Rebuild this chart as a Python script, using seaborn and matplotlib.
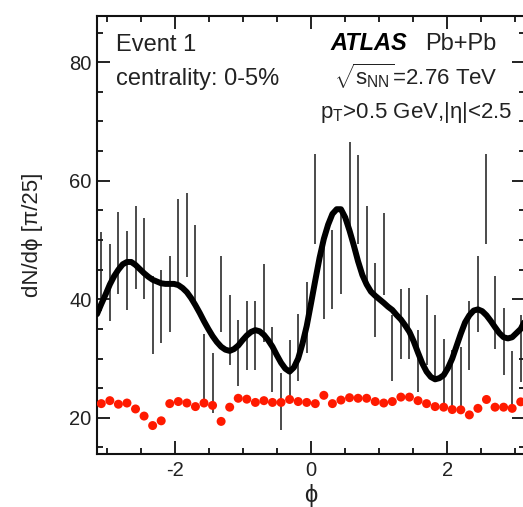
import numpy as np
import pandas as pd
import matplotlib
matplotlib.use("Agg")
import matplotlib.pyplot as plt
from matplotlib.ticker import MultipleLocator
import seaborn as sns

# ---------------- data ----------------
n_bins = 50
# event-by-event dN/dphi (black error bars)
event_counts = [44.7, 42.9, 47.8, 44.9, 48.8, 46.9, 37.4, 38.8, 40.9, 49.8,
                50.9, 45.7, 28.4, 25.9, 40.9, 34.8, 30.9, 33.9, 33.9, 39.4,
                29.9, 22.8, 27.8, 31.9, 37.0, 56.9, 43.2, 45.0, 47.8, 59.0,
                56.9, 48.8, 39.9, 47.7, 31.8, 35.8, 35.9, 29.6, 34.8, 31.7,
                27.9, 26.4, 26.8, 33.9, 40.9, 56.9, 37.8, 32.9, 26.2, 31.7]
event_errors = [6.7, 6.5, 6.9, 6.7, 7.0, 6.9, 6.6, 6.2, 6.4, 7.1,
                7.1, 6.9, 5.8, 5.1, 6.4, 5.9, 5.6, 5.8, 5.8, 6.6,
                5.5, 4.8, 5.3, 5.6, 6.0, 7.6, 6.6, 6.7, 6.9, 7.6,
                7.5, 7.0, 6.2, 6.9, 5.6, 5.9, 6.0, 5.3, 5.9, 5.7,
                5.4, 5.1, 5.2, 5.8, 6.4, 7.6, 6.1, 5.7, 5.1, 5.6]
# event-averaged distribution (red points)
average_counts = [22.4, 22.9, 22.3, 22.5, 21.5, 20.3, 18.7, 19.5, 22.4, 22.75,
                  22.5, 21.9, 22.5, 22.1, 19.4, 21.8, 23.3, 23.15, 22.6, 22.9,
                  22.6, 22.6, 23.1, 22.75, 22.6, 22.4, 23.8, 22.4, 23.0, 23.4,
                  23.3, 23.3, 22.75, 22.5, 22.75, 23.5, 23.5, 22.9, 22.4, 21.9,
                  21.8, 21.4, 21.35, 20.5, 21.6, 23.1, 21.8, 21.8, 21.6, 22.7]
# smooth Fourier-fit curve, read every half bin from phi = -pi to +pi
curve_values = [37.5, 39.2, 40.8, 42.5, 43.9, 45.0, 45.9, 46.3, 46.3, 45.8,
                45.1, 44.4, 43.8, 43.3, 43.0, 42.7, 42.6, 42.6, 42.6, 42.4,
                41.9, 41.2, 40.2, 39.0, 37.7, 36.3, 35.0, 33.8, 32.8, 32.0,
                31.5, 31.3, 31.6, 32.2, 33.1, 33.9, 34.5, 34.8, 34.6, 34.0,
                33.1, 32.0, 30.6, 29.3, 28.3, 27.8, 28.5, 30.0, 32.5, 35.5,
                39.3, 43.2, 47.0, 50.2, 52.6, 54.4, 55.2, 55.2, 53.8, 51.6,
                49.1, 46.4, 44.1, 42.5, 41.3, 40.6, 40.0, 39.4, 38.75, 38.2,
                37.35, 36.6, 35.6, 34.5, 32.9, 31.0, 29.2, 27.8, 26.9, 26.5,
                26.7, 27.2, 28.4, 30.0, 32.1, 34.2, 36.1, 37.3, 38.1, 38.3,
                38.0, 37.3, 36.35, 35.3, 34.3, 33.6, 33.4, 33.6, 34.3, 35.0,
                36.4]

x_ticks = [-2, 0, 2]
y_ticks = [20, 40, 60, 80]

# ---------------- binning ----------------
edges = np.linspace(-np.pi, np.pi, n_bins + 1)
centres = 0.5 * (edges[:-1] + edges[1:])
curve_phi = np.linspace(-np.pi, np.pi, 2 * n_bins + 1)

df_evt = pd.DataFrame({"phi": centres, "n": event_counts, "err": event_errors})
df_avg = pd.DataFrame({"phi": centres, "n": average_counts})
df_fit = pd.DataFrame({"phi": curve_phi, "n": curve_values})

# ---------------- style ----------------
sns.set_style("ticks")
plt.rcParams["font.family"] = ["Liberation Sans", "DejaVu Sans"]
plt.rcParams["axes.unicode_minus"] = False
plt.rcParams["mathtext.fontset"] = "custom"
plt.rcParams["mathtext.rm"] = "Liberation Sans"
plt.rcParams["mathtext.it"] = "Liberation Sans:italic"
plt.rcParams["mathtext.bf"] = "Liberation Sans:bold"

W, H, DPI = 523, 507, 100
fig = plt.figure(figsize=(W / DPI, H / DPI), dpi=DPI)
ax = fig.add_axes([97 / W, 1 - 454 / H, 428 / W, 438 / H])

# error bars
ax.errorbar(df_evt["phi"], df_evt["n"], yerr=df_evt["err"], fmt="none",
            ecolor="#1a1a1a", elinewidth=1.1, capsize=0, zorder=2)
# fit curve
sns.lineplot(data=df_fit, x="phi", y="n", ax=ax, color="black", lw=4.3,
             zorder=3, sort=False, solid_joinstyle="round",
             solid_capstyle="round")
# averaged distribution
sns.scatterplot(data=df_avg, x="phi", y="n", ax=ax, color="#ff1a00", s=42,
                edgecolor="none", zorder=4)

ax.set_xlim(-np.pi, np.pi)
ax.set_ylim(13.9, 87.8)
ax.set_xticks(x_ticks)
ax.set_yticks(y_ticks)
ax.xaxis.set_minor_locator(MultipleLocator(0.5))
ax.yaxis.set_minor_locator(MultipleLocator(5))
ax.tick_params(which="both", direction="in", top=True, right=True,
               color="#111111", width=1.3)
ax.tick_params(which="major", length=9.5, labelsize=14.5, labelcolor="#222222")
ax.tick_params(which="minor", length=4.5)
ax.tick_params(axis="x", which="major", pad=5)
ax.tick_params(axis="y", which="major", pad=4)
for s in ax.spines.values():
    s.set_linewidth(1.5)
    s.set_color("#111111")

ax.set_xlabel("ϕ", fontsize=17, color="#222222", labelpad=3)
ax.set_ylabel("dN/dϕ [π/25]", fontsize=16, color="#222222", labelpad=19)

# annotations
def px(xp, yp):
    return xp / W, 1 - yp / H

tc = "#222222"
fig.text(*px(116, 51), "Event 1", fontsize=17, color=tc, ha="left", va="baseline")
fig.text(*px(116, 85), "centrality: 0-5%", fontsize=17, color=tc, ha="left", va="baseline")
fig.text(*px(330, 50), "ATLAS", fontsize=17, color="black", fontweight="bold",
         fontstyle="italic", ha="left", va="baseline")
fig.text(*px(425, 50), "Pb+Pb", fontsize=17, color=tc, ha="left", va="baseline")
fig.text(*px(416, 85), r"$\sqrt{\mathrm{s}_{\mathrm{NN}}}$=2.76 TeV", fontsize=16,
         color=tc, ha="center", va="baseline")
fig.text(*px(416, 118), r"p$_{\mathrm{T}}$>0.5 GeV,|η|<2.5", fontsize=16, color=tc,
         ha="center", va="baseline")

fig.savefig("out.png", dpi=DPI)
